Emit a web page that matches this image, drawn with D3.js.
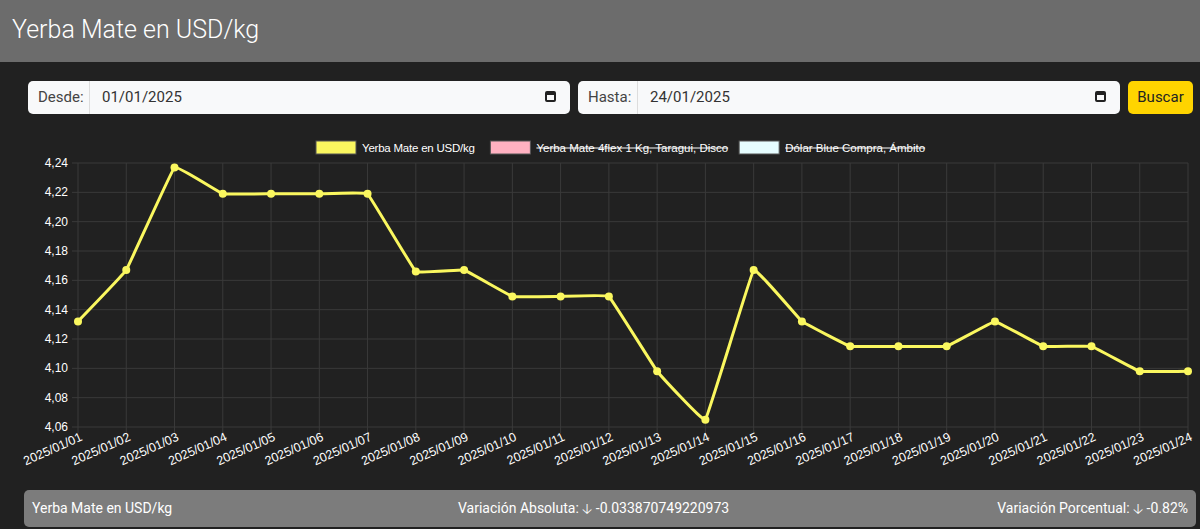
<!DOCTYPE html><html><head><meta charset="utf-8"><script src="https://cdn.jsdelivr.net/npm/d3@7"></script>
<style>body{margin:0;background:#212121;font-family:Roboto,"Liberation Sans",sans-serif;width:1200px;height:529px;overflow:hidden;position:relative}
.hdr{position:absolute;left:0;top:0;width:1200px;height:62px;background:#6c6c6c;color:#fff;font-size:25px;box-sizing:border-box;padding:15px 12px;font-weight:300}
.inp{position:absolute;top:81px;height:33px;background:#f8f9fa;border-radius:5px;font-size:15px;color:#333}
.inp .l{position:absolute;left:0;top:0;height:33px;line-height:33px;padding:0 10px;border-right:1px solid #ddd;color:#444;box-sizing:border-box}
.inp .v{position:absolute;top:0;line-height:33px}
.cal{position:absolute;right:14px;top:10px;width:11px;height:11px;border:2px solid #222;border-top-width:4px;border-radius:2px;box-sizing:border-box}
.btn{position:absolute;left:1128px;top:81px;width:65px;height:33px;background:#ffd400;border-radius:5px;line-height:33px;text-align:center;font-size:15px;color:#222}
.bot{position:absolute;left:24px;top:490px;width:1172px;height:37px;background:#7c7c7c;border-radius:5px;color:#fff;font-size:14px;line-height:37px}
svg{position:absolute;left:0;top:0}
</style></head><body>
<div class="hdr">Yerba Mate en USD/kg</div>
<div class="inp" style="left:28px;width:542px"><span class="l" style="width:62px">Desde:</span><span class="v" style="left:74px">01/01/2025</span><span class="cal"></span></div>
<div class="inp" style="left:578px;width:542px"><span class="l" style="width:60px">Hasta:</span><span class="v" style="left:72px">24/01/2025</span><span class="cal"></span></div>
<div class="btn">Buscar</div>
<div class="bot"><span style="position:absolute;left:8px">Yerba Mate en USD/kg</span><span style="position:absolute;left:434px">Variación Absoluta: 🡣 -0.033870749220973</span><span style="position:absolute;right:8px">Variación Porcentual: 🡣 -0.82%</span></div>
<svg width="1200" height="529"></svg>
<script>
const dates=["2025/01/01","2025/01/02","2025/01/03","2025/01/04","2025/01/05","2025/01/06","2025/01/07","2025/01/08","2025/01/09","2025/01/10","2025/01/11","2025/01/12","2025/01/13","2025/01/14","2025/01/15","2025/01/16","2025/01/17","2025/01/18","2025/01/19","2025/01/20","2025/01/21","2025/01/22","2025/01/23","2025/01/24"];
const values=[4.132,4.167,4.237,4.219,4.219,4.219,4.219,4.166,4.167,4.149,4.149,4.149,4.098,4.065,4.167,4.132,4.115,4.115,4.115,4.132,4.115,4.115,4.098,4.098];
const yTicks=[4.06,4.08,4.10,4.12,4.14,4.16,4.18,4.20,4.22,4.24];
const legend=[{n:"Yerba Mate en USD/kg",c:"#faf75f",s:false},{n:"Yerba Mate 4flex 1 Kg, Taragui, Disco",c:"#ffb1c1",s:true},{n:"Dólar Blue Compra, Ámbito",c:"#e6fdff",s:true}];
const svg=d3.select("svg");
const x=d3.scalePoint().domain(dates).range([78,1188]);
const y=d3.scaleLinear().domain([4.06,4.24]).range([427,163]);
const g=svg.append("g");
g.selectAll(".hy").data(yTicks).join("line").attr("x1",72).attr("x2",1188).attr("y1",d=>y(d)).attr("y2",d=>y(d)).attr("stroke","#3a3a3a");
g.selectAll(".vx").data(dates).join("line").attr("x1",d=>x(d)).attr("x2",d=>x(d)).attr("y1",163).attr("y2",433).attr("stroke","#3a3a3a");
g.selectAll(".yt").data(yTicks).join("text").attr("x",68).attr("y",d=>y(d)+4).attr("text-anchor","end").attr("fill","#fff").attr("font-size",12).attr("font-family","Liberation Sans, Arial").text(d=>d3.format(".2f")(d).replace(".",","));
g.selectAll(".xt").data(dates).join("text").attr("transform",d=>`translate(${x(d)+5},${440}) rotate(-24)`).attr("text-anchor","end").attr("fill","#fff").attr("font-size",12.5).attr("font-family","Liberation Sans, Arial").text(d=>d);
svg.append("path").datum(values).attr("fill","none").attr("stroke","#faf75f").attr("stroke-width",3)
 .attr("d",d3.line().x((d,i)=>x(dates[i])).y(d=>y(d)).curve(d3.curveCardinal.tension(0.85)));
svg.selectAll(".pt").data(values).join("circle").attr("cx",(d,i)=>x(dates[i])).attr("cy",d=>y(d)).attr("r",4).attr("fill","#faf75f");
let lx=316;
legend.forEach(l=>{
 const gg=svg.append("g");
 gg.append("rect").attr("x",lx).attr("y",141).attr("width",40).attr("height",13).attr("fill",l.c).attr("stroke","#555");
 const t=gg.append("text").attr("x",lx+46).attr("y",152).attr("fill","#fff").attr("font-size",11.5).attr("font-family","Liberation Sans, Arial").attr("textLength",l.s?null:113).text(l.n);
 const w=t.node().getComputedTextLength();
 if(l.s)gg.append("line").attr("x1",lx+46).attr("x2",lx+46+w).attr("y1",148).attr("y2",148).attr("stroke","#fff");
 lx+=46+w+11;
});
</script></body></html>
